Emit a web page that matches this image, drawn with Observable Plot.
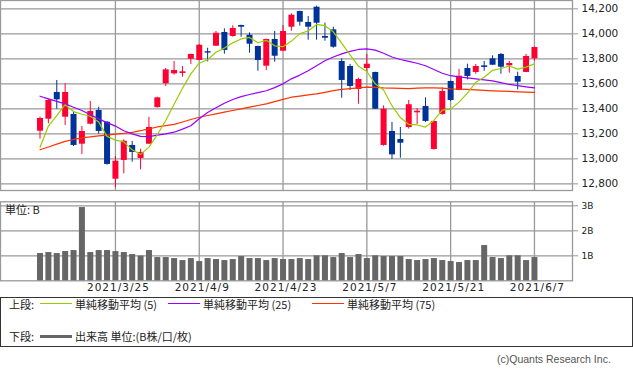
<!DOCTYPE html>
<html>
<head>
<meta charset="utf-8">
<script src="https://cdn.jsdelivr.net/npm/d3@7"></script>
<script src="https://cdn.jsdelivr.net/npm/@observablehq/plot@0.6"></script>
<style>
  html, body { margin: 0; padding: 0; background: #fff; }
  #wrap { position: relative; width: 633px; height: 371px; overflow: hidden; font-family: "Noto Sans CJK JP", "DejaVu Sans", sans-serif; }
  #price, #vol { position: absolute; left: 0; }
  #price { top: -1px; }
  #vol { top: 200px; }
  #vol g[aria-label="x-axis tick label"] text { letter-spacing: 1px; }
  .abs { position: absolute; white-space: nowrap; color: #222; font-size: 11px; line-height: 12px; }
  .ln { position: absolute; height: 0; }
</style>
</head>
<body>
<div id="wrap">
  <div id="price"></div>
  <div id="vol"></div>
  <div class="abs" style="left:5px;top:203px;">単位: B</div>
  <div style="position:absolute;left:0;top:297px;width:633px;height:50px;box-sizing:border-box;border:1px solid #333;"></div>
  <div class="abs" style="left:9px;top:297.5px;">上段:</div>
  <div class="ln" style="left:40px;top:303px;width:32px;border-top:1px solid #99cc00;"></div>
  <div class="abs" style="left:75px;top:297.5px;">単純移動平均 (5)</div>
  <div class="ln" style="left:168px;top:303px;width:32px;border-top:1px solid #9900ff;"></div>
  <div class="abs" style="left:203px;top:297.5px;">単純移動平均 (25)</div>
  <div class="ln" style="left:312px;top:303px;width:32px;border-top:1px solid #ff3300;"></div>
  <div class="abs" style="left:347px;top:297.5px;">単純移動平均 (75)</div>
  <div class="abs" style="left:9px;top:330px;">下段:</div>
  <div class="ln" style="left:40px;top:334.5px;width:32px;border-top:3.5px solid #666;"></div>
  <div class="abs" style="left:75px;top:330px;">出来高 単位:(B株/口/枚)</div>
  <div class="abs" style="left:497px;top:353px;font-family:'Liberation Sans',sans-serif;font-size:10.5px;color:#555;">(c)Quants Research Inc.</div>
</div>
<script>
// ---- data ----
const tickIdx = [9, 19, 29, 39, 49, 59];
const tickLabels = ["2021/3/25", "2021/4/9", "2021/4/23", "2021/5/7", "2021/5/21", "2021/6/7"];
const priceTicks = [12800, 13000, 13200, 13400, 13600, 13800, 14000, 14200];
const volTicks = [1, 2, 3];

const open = [13221,13317,13531,13333,13355,13117,13277,13387,13293,12837,12987,13107,13003,13117,13410,13600,13680,13683,13797,13787,13857,13901,14011,13979,14067,13989,13899,13741,13955,13861,14053,14179,14091,14213,13979,14032,13779,13739,13555,13723,13691,13107,13219,13155,13250,13368,13419,13075,13355,13619,13547,13723,13691,13744,13800,13835,13744,13659,13691,13800];
const high = [13333,13475,13627,13600,13373,13259,13459,13413,13299,13019,13152,13139,13077,13331,13493,13723,13779,13739,13838,13915,13885,14019,14040,14064,14069,14008,13901,13957,14019,14067,14160,14181,14139,14221,14085,14053,13800,13755,13645,13835,13693,13424,13291,13251,13467,13403,13488,13301,13568,13621,13715,13757,13755,13779,13824,13843,13779,13693,13835,13893];
const low = [13157,13280,13397,13267,13099,13035,13272,13197,12950,12768,12880,12973,12912,13115,13405,13579,13669,13653,13755,13785,13776,13898,13837,13973,13973,13845,13701,13707,13773,13858,14021,14061,13949,13949,13941,13885,13485,13547,13437,13693,13395,13101,12995,13005,13238,13275,13291,13069,13349,13459,13545,13632,13677,13701,13747,13677,13685,13552,13689,13781];
const close = [13323,13467,13472,13531,13107,13219,13379,13219,12955,12981,13141,13051,13051,13251,13488,13712,13707,13696,13835,13909,13846,14005,13867,14043,14053,13917,13787,13955,13821,14019,14149,14093,14053,14085,13965,13893,13627,13579,13635,13757,13397,13397,13032,13125,13433,13381,13299,13299,13539,13467,13661,13659,13739,13731,13749,13733,13763,13613,13819,13891];

const ma5 = [13093,13262,13345,13433,13378,13357,13341,13294,13180,13150,13136,13072,13036,13094,13193,13307,13437,13565,13680,13765,13793,13853,13886,13928,13959,13971,13929,13948,13904,13897,13942,14002,14023,14075,14065,14016,13925,13831,13741,13699,13600,13551,13425,13330,13275,13271,13254,13307,13389,13398,13454,13525,13612,13653,13708,13723,13743,13718,13734,13760];
const ma25 = [13501,13480,13460,13440,13413,13387,13353,13320,13290,13262,13225,13200,13180,13178,13190,13200,13213,13238,13265,13320,13370,13408,13445,13475,13498,13515,13530,13545,13570,13600,13640,13670,13705,13745,13785,13815,13840,13860,13875,13880,13870,13845,13815,13795,13780,13765,13745,13715,13685,13665,13655,13648,13640,13632,13623,13610,13595,13585,13576,13568];
const ma75 = [13073,13095,13118,13140,13155,13168,13175,13183,13190,13197,13203,13212,13225,13240,13255,13265,13276,13295,13315,13333,13347,13360,13373,13387,13400,13413,13427,13440,13458,13476,13493,13502,13511,13520,13532,13545,13555,13562,13568,13573,13571,13567,13565,13563,13562,13566,13568,13568,13565,13560,13558,13555,13551,13547,13544,13541,13539,13536,13533,13531];
const volume = [1.09,1.13,1.09,1.17,1.21,2.93,1.13,1.21,1.21,1.17,1.13,1.05,0.99,1.21,0.93,0.93,0.89,0.81,0.89,0.77,0.89,0.85,0.81,0.85,0.97,0.89,0.89,0.81,0.89,0.85,0.85,0.89,0.85,1.0,1.0,0.93,1.09,0.93,1.05,0.89,1.0,0.97,0.97,0.97,0.85,0.81,0.85,0.89,0.81,0.77,0.73,0.81,0.81,1.41,0.93,0.89,1.0,1.0,0.81,0.93];

// ---- style ----
const UP = "#ff0033", DOWN = "#003399", GRID = "#999999";
const idx = d3.range(open.length);
const col = i => close[i] >= open[i] ? UP : DOWN;
const xDomain = [-4.714, 63.54];

const price = Plot.plot({
  width: 633, height: 193, marginTop: 1, marginBottom: 2, marginLeft: 0, marginRight: 61,
  style: { fontFamily: "DejaVu Sans", fontSize: "10.5px", color: "#222", background: "transparent" },
  x: { domain: xDomain, axis: null },
  y: { domain: [12746.7, 14266.7], axis: null },
  marks: [
    Plot.gridY(priceTicks, { stroke: GRID, strokeOpacity: 1, strokeWidth: 1.3 }),
    Plot.gridX(tickIdx, { stroke: GRID, strokeOpacity: 1, strokeWidth: 1.3 }),
    Plot.frame({ stroke: GRID, strokeWidth: 1.3 }),
    Plot.axisY(priceTicks, { anchor: "right", tickSize: 5, tickPadding: 4, stroke: GRID, tickFormat: d3.format(","), fontSize: 10.5 }),
    Plot.ruleX(idx, { x: i => i, y1: i => low[i], y2: i => high[i], stroke: col, strokeWidth: 1 }),
    Plot.ruleX(idx, { x: i => i, y1: i => open[i], y2: i => close[i], stroke: col, strokeWidth: 6 }),
    Plot.line(idx, { x: i => i, y: i => ma75[i], stroke: "#ff3300", strokeWidth: 1.2 }),
    Plot.line(idx, { x: i => i, y: i => ma25[i], stroke: "#9900ff", strokeWidth: 1.2 }),
    Plot.line(idx, { x: i => i, y: i => ma5[i], stroke: "#99cc00", strokeWidth: 1.2 })
  ]
});
document.getElementById("price").appendChild(price);

const vol = Plot.plot({
  width: 633, height: 101, marginTop: 1.3, marginBottom: 20.7, marginLeft: 0, marginRight: 61,
  style: { fontFamily: "DejaVu Sans", fontSize: "10.5px", color: "#222", background: "transparent" },
  x: { domain: xDomain, axis: null },
  y: { domain: [0, 3.16], axis: null },
  marks: [
    Plot.gridY(volTicks, { stroke: GRID, strokeOpacity: 1, strokeWidth: 1.3 }),
    Plot.gridX(tickIdx, { stroke: GRID, strokeOpacity: 1, strokeWidth: 1.3 }),
    Plot.frame({ stroke: GRID, strokeWidth: 1.3 }),
    Plot.ruleX(idx, { x: i => i, y1: 0, y2: i => volume[i], stroke: "#666666", strokeWidth: 6 }),
    Plot.axisY(volTicks, { anchor: "right", tickSize: 5, tickPadding: 4, stroke: GRID, tickFormat: d => d + "B", fontSize: 9 }),
    Plot.axisX(tickIdx, { anchor: "bottom", tickSize: 0, tickPadding: 3, dx: 3, tickFormat: i => tickLabels[tickIdx.indexOf(i)], fontSize: 10.5 })
  ]
});
document.getElementById("vol").appendChild(vol);
</script>
</body>
</html>
